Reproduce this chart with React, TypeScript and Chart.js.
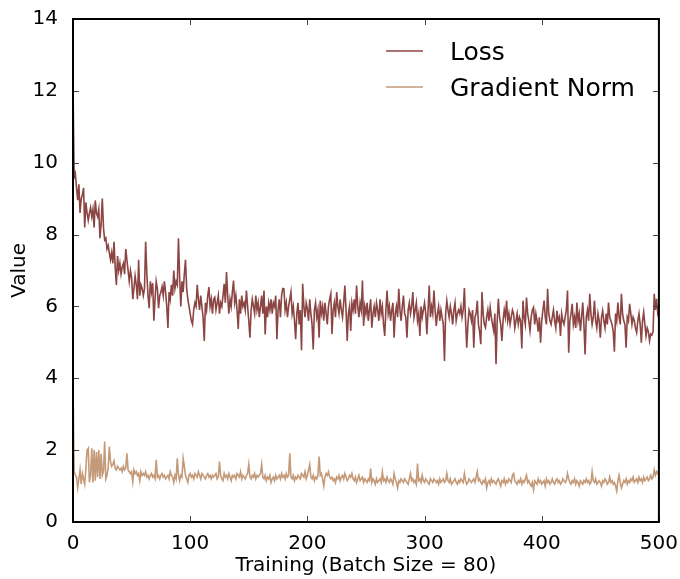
import React, { useEffect, useRef } from "react";
import { Chart, registerables } from "chart.js";

Chart.register(...registerables);

const seriesNames = ["Loss", "Gradient Norm"];
const seriesColors = ["#8b4543", "#c49a78"];
const xTicks = [0, 100, 200, 300, 400, 500];
const yTicks = [0, 2, 4, 6, 8, 10, 12, 14];
const xTitle = "Training (Batch Size = 80)";
const yTitle = "Value";

const lossValues = [
  12.1, 9.6, 9.7, 9.3, 8.96, 9.4, 8.6, 9.0, 9.1, 9.3,
  8.2, 8.9, 8.6, 8.4, 8.6, 8.75, 8.5, 8.7, 8.2, 8.95,
  8.6, 8.5, 8.7, 7.9, 8.3, 9.0, 8.2, 7.85, 7.9, 7.6,
  7.7, 7.5, 7.3, 7.5, 7.2, 7.8, 7.1, 6.6, 7.4, 7.0,
  7.2, 6.9, 7.1, 7.2, 6.9, 7.6, 7.3, 7.0, 6.7, 7.0,
  6.8, 6.2, 6.5, 6.85, 6.6, 6.2, 7.3, 6.3, 6.6, 6.5,
  6.3, 6.5, 7.8, 6.9, 6.3, 5.95, 6.7, 6.4, 6.65, 5.6,
  6.2, 6.7, 6.5, 5.95, 6.3, 6.4, 6.55, 6.3, 6.7, 6.4,
  6.0, 5.4, 6.4, 6.2, 6.6, 6.3, 7.0, 6.5, 6.7, 6.6,
  7.9, 6.8, 6.0, 6.7, 6.4, 6.9, 7.3, 6.5, 6.2, 6.0,
  5.8, 5.6, 5.5, 5.9, 6.1, 6.0, 6.6, 6.2, 5.9, 6.3,
  6.0, 5.7, 5.04, 6.1, 5.9, 6.3, 6.54, 6.0, 6.2, 5.8,
  6.2, 6.25, 5.9, 6.1, 6.3, 5.8, 6.1, 6.0, 6.3, 6.63,
  6.1, 6.96, 6.3, 5.8, 6.2, 6.0, 6.4, 6.72, 6.1, 6.3,
  5.9, 5.37, 6.2, 5.8, 6.3, 6.0, 6.1, 5.9, 6.44, 6.0,
  5.6, 5.13, 5.9, 6.2, 6.0, 5.8, 6.3, 5.9, 6.1, 5.7,
  6.0, 6.3, 5.8, 6.44, 5.22, 6.0, 5.7, 6.1, 5.9, 6.2,
  5.8, 6.1, 6.0, 6.3, 5.09, 5.9, 6.2, 5.7, 6.3, 6.5,
  6.49, 5.9, 6.1, 5.7, 6.0, 6.2, 6.4, 5.8, 6.0, 5.6,
  5.09, 5.8, 6.1, 5.5, 5.9, 4.78, 6.63, 6.0, 5.7, 6.1,
  5.93, 5.6, 6.2, 5.8, 5.5, 4.8, 5.9, 6.1, 5.7, 5.9,
  5.13, 6.16, 5.8, 6.0, 5.6, 6.1, 5.8, 5.5, 6.0, 6.2,
  6.35, 5.23, 5.9, 6.1, 5.7, 6.4, 6.0, 5.8, 6.2, 5.9,
  5.7, 6.1, 6.58, 5.9, 5.04, 5.8, 6.0, 5.32, 6.1, 5.9,
  6.2, 5.8, 6.58, 6.0, 5.7, 6.1, 5.9, 6.72, 5.46, 6.0,
  5.8, 6.1, 5.6, 5.9, 6.2, 5.41, 5.8, 6.0, 5.7, 6.1,
  5.9, 5.6, 6.2, 5.8, 6.0, 5.5, 5.18, 5.9, 6.44, 5.8,
  6.0, 5.6, 5.9, 6.1, 5.13, 5.8, 6.0, 5.7, 6.49, 5.9,
  5.6, 6.0, 6.3, 5.8, 5.7, 5.13, 5.9, 6.1, 5.8, 6.0,
  6.4, 5.7, 5.9, 6.1, 5.6, 5.8, 5.18, 6.0, 5.7, 5.9,
  6.1, 5.8, 5.23, 5.9, 6.58, 5.7, 6.0, 5.8, 6.44, 5.9,
  5.46, 5.8, 6.0, 5.6, 5.9, 5.7, 5.5, 4.48, 5.8, 6.16,
  5.9, 5.7, 6.0, 5.8, 5.5, 5.9, 6.1, 5.6, 5.8, 5.9,
  5.8, 6.0, 5.7, 5.9, 6.51, 5.6, 4.85, 5.5, 5.9, 5.79,
  5.6, 5.9, 4.85, 5.7, 5.8, 6.16, 5.5, 5.3, 4.95, 6.4,
  5.8, 5.5, 5.41, 5.7, 5.9, 5.6, 5.97, 5.7, 5.5, 5.32,
  5.8, 4.39, 5.6, 6.21, 5.7, 5.5, 5.04, 5.6, 5.9, 5.7,
  6.16, 5.6, 5.8, 5.5, 5.7, 5.9, 5.79, 5.4, 5.6, 5.8,
  5.5, 5.7, 5.6, 4.83, 6.16, 5.7, 5.5, 6.25, 5.8, 5.6,
  5.32, 5.7, 5.9, 5.97, 5.5, 5.8, 5.6, 5.3, 5.7, 4.99,
  5.6, 5.9, 6.16, 5.7, 5.5, 6.49, 5.8, 5.6, 5.5, 5.7,
  5.9, 5.6, 5.4, 5.88, 5.6, 5.7, 5.18, 5.8, 5.6, 5.5,
  5.7, 5.9, 6.44, 4.71, 5.6, 5.8, 6.07, 5.5, 5.7, 5.4,
  6.11, 5.6, 5.8, 5.32, 5.7, 6.11, 5.5, 4.66, 5.7, 5.9,
  5.6, 6.35, 5.8, 5.5, 5.7, 6.16, 5.6, 5.4, 5.8, 5.6,
  5.13, 5.7, 5.88, 5.6, 5.4, 5.8, 5.5, 6.11, 5.7, 5.6,
  5.5, 5.3, 4.74, 5.8, 5.6, 6.11, 5.7, 5.5, 6.35, 5.8,
  5.6, 5.5, 4.85, 5.7, 5.6, 6.07, 5.8, 5.5, 5.7, 5.6,
  5.4, 5.27, 5.6, 5.8, 5.5, 4.99, 5.6, 5.84, 5.5, 5.18,
  5.4, 5.3, 5.04, 5.23, 5.2, 5.3, 6.35, 5.9, 6.21, 5.8,
  5.9,
];

const gradNormValues = [
  3.8, 1.4, 1.3, 1.25, 0.95, 1.2, 1.45, 1.05, 1.35, 1.2,
  1.05, 1.5, 2.0, 2.05, 1.1, 1.3, 2.05, 1.1, 2.0, 1.15,
  1.95, 1.25, 2.0, 1.2, 1.9, 1.3, 1.4, 2.24, 1.2, 1.3,
  1.5, 2.1, 1.68, 1.55, 1.6, 1.7, 1.5, 1.45, 1.55, 1.5,
  1.45, 1.5, 1.4, 1.55, 1.45, 1.5, 1.91, 1.45, 1.4, 1.35,
  1.4, 1.12, 1.45, 1.35, 1.4, 1.3, 1.35, 1.15, 1.4, 1.3,
  1.35, 1.3, 1.4, 1.25, 1.3, 1.2, 1.3, 1.35, 1.25, 1.3,
  1.2, 1.73, 1.25, 1.3, 1.2, 1.3, 1.35, 1.25, 1.3, 1.2,
  1.25, 1.3, 1.2, 1.4, 1.3, 1.25, 1.1, 1.3, 1.2, 1.77,
  1.3, 1.15, 1.3, 1.25, 1.77, 1.55, 1.3, 1.2, 1.1, 1.3,
  1.35, 1.25, 1.3, 1.2, 1.35, 1.3, 1.25, 1.4, 1.3, 1.2,
  1.35, 1.3, 1.25, 1.2, 1.3, 1.35, 1.25, 1.3, 1.2, 1.3,
  1.25, 1.3, 1.35, 1.2, 1.25, 1.68, 1.3, 1.2, 1.15, 1.35,
  1.25, 1.3, 1.2, 1.35, 1.25, 1.15, 1.3, 1.25, 1.3, 1.2,
  1.35, 1.3, 1.25, 1.4, 1.2, 1.3, 1.25, 1.2, 1.3, 1.35,
  1.6, 1.25, 1.2, 1.3, 1.25, 1.35, 1.2, 1.3, 1.25, 1.3,
  1.35, 1.6, 1.25, 1.2, 1.3, 1.15, 1.25, 1.2, 1.3, 1.1,
  1.2, 1.25, 1.15, 1.3, 1.2, 1.25, 1.3, 1.2, 1.35, 1.25,
  1.3, 1.2, 1.35, 1.25, 1.3, 1.91, 1.25, 1.2, 1.3, 1.15,
  1.25, 1.2, 1.3, 1.25, 1.2, 1.35, 1.3, 1.25, 1.4, 1.2,
  1.3, 1.45, 1.6, 1.25, 1.2, 1.3, 1.15, 1.25, 1.2, 1.3,
  1.82, 1.3, 1.35, 1.2, 1.0, 1.25, 1.35, 1.3, 1.4, 1.25,
  1.2, 1.25, 1.15, 1.2, 1.1, 1.25, 1.2, 1.3, 1.15, 1.25,
  1.3, 1.2, 1.35, 1.25, 1.15, 1.2, 1.3, 1.25, 1.35, 1.2,
  1.15, 1.25, 1.1, 1.2, 1.3, 1.15, 1.2, 1.25, 1.1, 1.2,
  1.15, 1.1, 1.2, 1.15, 1.49, 1.1, 1.2, 1.15, 1.05, 1.2,
  1.1, 1.15, 1.2, 1.1, 1.4, 1.15, 1.2, 1.1, 1.25, 1.15,
  1.1, 1.2, 1.15, 1.05, 1.35, 1.2, 1.1, 0.95, 1.15, 1.1,
  1.2, 1.15, 1.1, 1.2, 1.15, 1.1, 1.05, 1.2, 1.35, 1.15,
  1.2, 1.1, 1.15, 1.05, 1.63, 1.15, 1.2, 1.1, 1.3, 1.15,
  1.1, 1.2, 1.15, 1.1, 1.05, 1.2, 1.15, 1.1, 1.2, 1.15,
  1.1, 1.15, 1.05, 1.2, 1.1, 1.15, 1.2, 1.1, 1.15, 1.35,
  1.15, 1.1, 1.2, 1.05, 1.1, 1.15, 1.2, 1.1, 1.05, 1.15,
  1.1, 1.2, 1.15, 1.1, 1.35, 1.15, 1.05, 1.1, 1.2, 1.15,
  1.1, 1.15, 1.2, 1.1, 1.25, 1.4, 1.15, 1.2, 1.1, 1.05,
  1.15, 1.1, 1.2, 0.95, 1.1, 1.15, 1.05, 1.2, 1.1, 1.15,
  1.1, 1.05, 1.15, 1.2, 1.1, 1.0, 1.15, 1.1, 1.2, 1.05,
  1.15, 1.1, 1.2, 1.15, 1.1, 1.3, 1.35, 1.15, 1.1, 1.05,
  1.15, 1.1, 1.2, 1.05, 1.15, 1.1, 1.2, 1.3, 1.1, 1.15,
  1.05, 1.0, 1.1, 0.9, 1.15, 1.1, 1.05, 1.2, 1.1, 1.15,
  1.05, 1.1, 1.15, 1.0, 1.2, 1.1, 1.15, 1.05, 1.1, 1.2,
  1.1, 1.05, 1.15, 1.2, 1.1, 1.15, 1.05, 1.1, 1.2, 1.15,
  1.1, 1.15, 1.35, 1.2, 1.1, 1.05, 1.15, 1.1, 1.2, 1.05,
  1.15, 1.1, 1.0, 1.15, 1.1, 1.05, 1.15, 1.1, 1.2, 1.1,
  1.15, 1.05, 1.1, 1.4, 1.15, 1.1, 1.2, 1.05, 1.1, 1.15,
  1.1, 1.0, 1.15, 1.1, 1.2, 1.15, 1.05, 1.1, 1.25, 1.1,
  1.15, 1.05, 1.1, 1.0, 0.86, 1.15, 1.3, 1.1, 0.95, 1.05,
  1.15, 1.1, 1.2, 1.05, 1.15, 1.1, 1.2, 1.15, 1.25, 1.1,
  1.15, 1.2, 1.1, 1.25, 1.15, 1.2, 1.1, 1.25, 1.15, 1.2,
  1.25, 1.15, 1.2, 1.3, 1.2, 1.25, 1.45, 1.3, 1.4, 1.35,
  1.45,
];

const FONT = "'DejaVu Sans', sans-serif";

const frameTicksLegend = {
  id: "frameTicksLegend",
  afterDraw(chart: any) {
    const { ctx, chartArea } = chart;
    const { left, right, top, bottom } = chartArea;
    const xs = chart.scales.x;
    const ys = chart.scales.y;
    ctx.save();
    // inward ticks on all four sides
    ctx.strokeStyle = "#444";
    ctx.lineWidth = 1;
    const tl = 6;
    ctx.beginPath();
    xTicks.forEach((t) => {
      const px = Math.round(xs.getPixelForValue(t)) + 0.5;
      ctx.moveTo(px, bottom);
      ctx.lineTo(px, bottom - tl);
      ctx.moveTo(px, top);
      ctx.lineTo(px, top + tl);
    });
    yTicks.forEach((t) => {
      const py = Math.round(ys.getPixelForValue(t)) + 0.5;
      ctx.moveTo(left, py);
      ctx.lineTo(left + tl, py);
      ctx.moveTo(right, py);
      ctx.lineTo(right - tl, py);
    });
    ctx.stroke();
    // frame
    ctx.strokeStyle = "#000";
    ctx.lineWidth = 2;
    ctx.strokeRect(left, top, right - left, bottom - top);
    // legend
    const entries = chart.data.datasets;
    ctx.font = `25px ${FONT}`;
    ctx.textAlign = "left";
    ctx.textBaseline = "alphabetic";
    entries.forEach((ds: any, i: number) => {
      const cy = 51 + i * 36;
      ctx.strokeStyle = ds.borderColor;
      ctx.lineWidth = 1.5;
      ctx.beginPath();
      ctx.moveTo(386, cy);
      ctx.lineTo(423, cy);
      ctx.stroke();
      ctx.fillStyle = "#000";
      ctx.fillText(ds.label, 450, cy + 9);
    });
    ctx.restore();
  },
};

export default function App() {
  const canvasRef = useRef<HTMLCanvasElement | null>(null);

  useEffect(() => {
    const canvas = canvasRef.current;
    if (!canvas) return;
    const steps = lossValues.map((_, i) => i);
    const chart = new Chart(canvas, {
      type: "line",
      data: {
        datasets: [
          {
            label: seriesNames[0],
            data: steps.map((s, i) => ({ x: s, y: lossValues[i] })),
            borderColor: seriesColors[0],
            borderWidth: 1.6,
            pointRadius: 0,
            tension: 0,
            fill: false,
          },
          {
            label: seriesNames[1],
            data: steps.map((s, i) => ({ x: s, y: gradNormValues[i] })),
            borderColor: seriesColors[1],
            borderWidth: 1.6,
            pointRadius: 0,
            tension: 0,
            fill: false,
          },
        ],
      },
      options: {
        responsive: false,
        animation: false,
        devicePixelRatio: 1,
        layout: { padding: { left: 0, right: 21, top: 19, bottom: 0 } },
        plugins: {
          legend: { display: false },
          tooltip: { enabled: false },
        },
        scales: {
          x: {
            type: "linear",
            min: 0,
            max: 500,
            afterFit: (scale: any) => {
              scale.height = 57;
            },
            afterBuildTicks: (scale: any) => {
              scale.ticks = xTicks.map((v) => ({ value: v }));
            },
            grid: { display: false },
            border: { display: false },
            ticks: {
              color: "#000",
              font: { family: FONT, size: 20 },
              padding: 2,
              maxRotation: 0,
            },
            title: {
              display: true,
              text: xTitle,
              color: "#000",
              font: { family: FONT, size: 20 },
              padding: { top: 0, bottom: 1 },
            },
          },
          y: {
            type: "linear",
            min: 0,
            max: 14,
            afterFit: (scale: any) => {
              scale.width = 73;
            },
            afterBuildTicks: (scale: any) => {
              scale.ticks = yTicks.map((v) => ({ value: v }));
            },
            grid: { display: false },
            border: { display: false },
            ticks: {
              color: "#000",
              font: { family: FONT, size: 20 },
              padding: 7,
            },
            title: {
              display: true,
              text: yTitle,
              color: "#000",
              font: { family: FONT, size: 20 },
              padding: { top: 8, bottom: 0 },
            },
          },
        },
      },
      plugins: [frameTicksLegend],
    });
    return () => chart.destroy();
  }, []);

  return (
    <div style={{ position: "fixed", left: 0, top: 0, width: 680, height: 579, background: "#fff" }}>
      <canvas ref={canvasRef} width={680} height={579} style={{ display: "block" }} />
    </div>
  );
}
